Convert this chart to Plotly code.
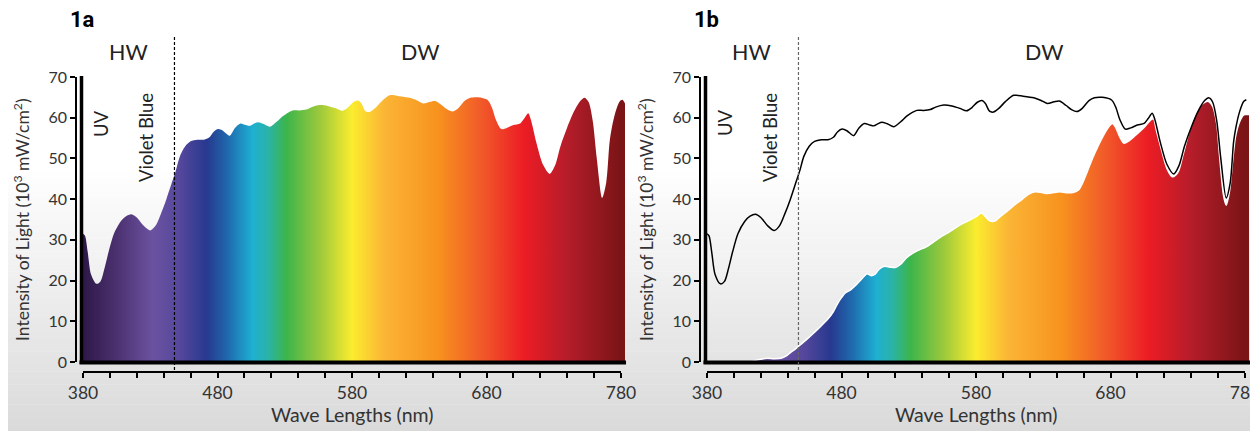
import plotly.graph_objects as go

# ---------------- data ----------------
wl_total = [380, 381.5, 383.5, 386, 390, 393, 396, 399, 403, 408, 412, 416, 420, 425, 430, 434, 438, 442,
            446, 449, 452, 456, 460, 465, 470, 474, 477, 480.5, 484, 489, 493, 497, 501, 504, 507, 510,
            514, 519, 524, 529, 536, 541, 546, 550, 556, 562, 568, 573, 577, 581, 584.5, 587, 590, 593,
            597, 602, 608, 615, 623, 628, 633, 638, 642, 647, 651, 655, 659, 664, 668, 674, 681, 684,
            687, 691, 695, 700, 705, 708, 711, 713, 717, 722, 727, 731, 735, 740, 745, 750, 753, 756,
            759, 762, 766, 769, 771.5, 773, 776, 779, 781, 783]
val_total = [31.5, 31.0, 27, 21.5, 19.2, 19.8, 23, 27, 31.5, 34.5, 35.8, 36.3, 35.5, 33.5, 32.3, 33.5, 36.5, 40,
             44, 47, 50.5, 53, 54.2, 54.6, 54.6, 55.2, 56.5, 57.2, 56.8, 55.6, 57.5, 58.6, 58.2, 58, 58.5, 58.9,
             58.5, 57.8, 59, 60.5, 61.8, 61.8, 62, 62.6, 63.1, 62.9, 62.3, 61.7, 62.5, 63.8, 64.2, 63.5, 61.6, 61.4,
             62.3, 64, 65.5, 65.3, 64.9, 64.3, 63.5, 63.9, 64.1, 63, 62, 61.5, 62.3, 64.2, 64.9, 65, 64.3, 62.5,
             59.5, 57.2, 57.5, 58.2, 58.6, 59.8, 61.1, 59.5, 54, 48.5, 46.2, 48.3, 53, 57.6, 61.5, 64.2, 64.9, 63.8,
             59.2, 50, 40.3, 44, 54, 57.2, 61.5, 64, 64.4, 63.5]

wl_dw = [380, 400, 412, 416, 420, 425, 430, 435, 439, 442, 446, 450, 455, 460, 465, 470, 474, 477, 480, 483,
         487, 491, 495, 499, 502, 505, 508, 512, 516, 520, 524, 528, 532, 537, 543, 549, 555, 560, 565, 570,
         575, 580, 584, 587, 590, 594, 598, 603, 608, 614, 619, 624, 629, 633, 638, 642, 647, 652, 656, 659,
         663, 667, 671, 675, 679, 681.5, 684, 687, 690, 694, 698, 702, 706, 710, 712, 714, 718, 722, 726, 730,
         734, 738, 742, 746, 750, 753, 756, 759, 761, 764, 766, 768.5, 771, 773, 776, 779, 781, 783]
val_dw = [0, 0, 0, 0.4, 0.7, 0.9, 0.8, 0.9, 1.5, 2.3, 3.3, 4.4, 5.8, 7.3, 8.9, 10.6, 12.4, 14.3, 15.8, 17,
          17.8, 19, 20.4, 21.7, 21.2, 21.6, 22.8, 23.5, 23.3, 23.2, 24, 25.5, 26.5, 27.4, 28.3, 29.6, 31, 31.9, 33, 34,
          34.8, 35.7, 36.6, 35.7, 34.7, 34.6, 35.7, 37, 38.4, 39.9, 41.2, 41.8, 41.6, 41.4, 41.6, 41.8, 41.6, 41.6, 42.2, 43.8,
          47, 50.3, 53.2, 55.8, 57.9, 58.6, 57.5, 55.2, 53.7, 54.4, 55.5, 56.7, 58, 59.5, 59.7, 57, 52, 47.5, 45.5, 46.5,
          51, 56, 60, 62.6, 63.8, 64, 62.8, 58.5, 51, 41, 38.5, 42, 50, 55.4, 59, 60.7, 60.8, 60.8]

x_tickvals = list(range(380, 781, 20))
x_ticktext = [str(v) if v % 100 == 80 else " " for v in x_tickvals]
y_tickvals = list(range(0, 71, 10))
divider_wl = 448

spectrum = [
    [0.000, "#2e1848"], [0.060, "#4a306e"], [0.130, "#6b52a0"], [0.180, "#55479c"],
    [0.230, "#27398f"], [0.270, "#1f6aae"], [0.315, "#1eb0d2"], [0.345, "#2bb3a6"],
    [0.378, "#3cb54a"], [0.440, "#9cc93c"], [0.500, "#fbec2e"], [0.560, "#fbb535"],
    [0.660, "#f7921e"], [0.740, "#f15a29"], [0.820, "#ec1c24"], [0.900, "#b51d2a"],
    [1.000, "#7a1416"],
]

# ---------------- layout helpers ----------------
OFF = 8                      # page body margin
W, H = 1258 - OFF, 431 - OFF
S = 1.345                    # px per nm
R0, R1 = 378.5, 783


def fx(p):
    return (p - OFF) / W


def fy(p):
    return 1 - (p - OFF) / H


panels = [dict(left=83, ytick=76, name="1a"), dict(left=707, ytick=700, name="1b")]
Y0, Y70 = 362, 77

fig = go.Figure()

# background gradient bands
shapes = []
g_top, g_bot = 165, 431
nb = 40
for i in range(nb):
    t = (i + 0.5) / nb
    c = int(round(255 - t * (255 - 218)))
    shapes.append(dict(type="rect", xref="paper", yref="paper", layer="below",
                       x0=0, x1=1, y0=fy(g_top + (g_bot - g_top) * i / nb),
                       y1=fy(g_top + (g_bot - g_top) * (i + 1) / nb) - 0.001,
                       fillcolor=f"rgb({c},{c},{c})", line=dict(width=0)))

annotations = []
layout_axes = {}

for k, p in enumerate(panels):
    sfx = "" if k == 0 else str(k + 1)
    xa, ya = "x" + sfx, "y" + sfx
    left = p["left"]
    dl = left - (380 - R0) * S
    dr = left + (R1 - 380) * S

    def lx(w, left=left):
        return fx(left + (w - 380) * S)

    layout_axes["xaxis" + sfx] = dict(
        domain=[fx(dl), fx(dr)], range=[R0, R1], anchor="free", position=fy(372),
        showline=False, showgrid=False, zeroline=False, ticks="outside", ticklen=5,
        tickwidth=1.5, tickcolor="black", tickvals=x_tickvals, ticktext=x_ticktext,
        tickfont=dict(family="Lato", size=17.5, color="#333333"), fixedrange=True,
        automargin=False, ticklabeloverflow="allow")
    layout_axes["yaxis" + sfx] = dict(
        domain=[fy(Y0), fy(Y70)], range=[0, 70], anchor="free", position=fx(p["ytick"]),
        showline=True, linewidth=1.5, linecolor="black", showgrid=False, zeroline=False,
        ticks="outside", ticklen=5, tickwidth=1.5, tickcolor="black", tickvals=y_tickvals,
        tickfont=dict(family="Lato", size=16, color="#333333"), fixedrange=True,
        automargin=False, ticklabeloverflow="allow")

    if k == 0:
        fig.add_trace(go.Scatter(x=wl_total, y=val_total, xaxis=xa, yaxis=ya, mode="lines",
                                 line=dict(width=0, shape="spline", smoothing=0.8),
                                 fill="tozeroy",
                                 fillgradient=dict(type="horizontal", colorscale=spectrum,
                                                   start=380, stop=780),
                                 hoverinfo="skip", showlegend=False))
    else:
        fig.add_trace(go.Scatter(x=wl_dw, y=val_dw, xaxis=xa, yaxis=ya, mode="lines",
                                 line=dict(width=1.5, color="white", shape="spline", smoothing=0.8),
                                 fill="tozeroy",
                                 fillgradient=dict(type="horizontal", colorscale=spectrum,
                                                   start=380, stop=780),
                                 hoverinfo="skip", showlegend=False))
        fig.add_trace(go.Scatter(x=wl_total[:-1], y=val_total[:-1], xaxis=xa, yaxis=ya, mode="lines",
                                 line=dict(width=1.5, color="black", shape="spline", smoothing=0.8),
                                 hoverinfo="skip", showlegend=False))

    # thin tick-axis line (x)
    shapes.append(dict(type="line", xref="paper", yref="paper", x0=lx(380), x1=lx(780),
                       y0=fy(372), y1=fy(372), line=dict(color="black", width=2)))
    # thick axis lines
    shapes.append(dict(type="line", xref="paper", yref="paper", x0=fx(left - 3.5), x1=fx(dr + 1),
                       y0=fy(362.5), y1=fy(362.5), line=dict(color="black", width=4)))
    shapes.append(dict(type="line", xref="paper", yref="paper", x0=fx(left - 1.5), x1=fx(left - 1.5),
                       y0=fy(364), y1=fy(Y70 - 1), line=dict(color="black", width=3.5)))
    # divider
    shapes.append(dict(type="line", xref="paper", yref="paper", x0=lx(divider_wl), x1=lx(divider_wl),
                       y0=fy(37), y1=fy(371),
                       line=dict(color="black" if k == 0 else "#666666", width=1.2, dash="3px,2px")))

    txt = dict(family="Lato", color="#222222")
    base = dict(xref="paper", yref="paper", showarrow=False, xanchor="center", yanchor="middle")
    annotations += [
        dict(text=f"<b>{p['name']}</b>", x=fx(left - 15), y=fy(19), **{**base, "xanchor": "left"},
             font=dict(family="Roboto", size=22, color="black")),
        dict(text="HW", x=fx(left + 45), y=fy(52), **base, font=dict(size=21.5, **txt)),
        dict(text="DW", x=fx(left + 337), y=fy(52), **base, font=dict(size=21.5, **txt)),
        dict(text="UV", x=fx(left + 18), y=fy(123), textangle=-90, **base, font=dict(size=18.5, **txt)),
        dict(text="Violet Blue", x=fx(left + 63), y=fy(138), textangle=-90, **base,
             font=dict(size=18.5, **txt)),
        dict(text="Intensity of Light (10<sup>3</sup> mW/cm<sup>2</sup>)", x=fx(left - 61), y=fy(220),
             textangle=-90, **base, font=dict(size=17.5, family="Lato", color="#333333")),
        dict(text="Wave Lengths (nm)", x=fx(left + 269), y=fy(414), **base,
             font=dict(size=19.5, family="Lato", color="#333333")),
    ]

fig.update_layout(width=W, height=H, margin=dict(l=0, r=0, t=0, b=0, pad=0, autoexpand=False),
                  paper_bgcolor="white", plot_bgcolor="rgba(0,0,0,0)",
                  shapes=shapes, annotations=annotations, showlegend=False, **layout_axes)

fig.write_html("out.html", config={"displayModeBar": False})
